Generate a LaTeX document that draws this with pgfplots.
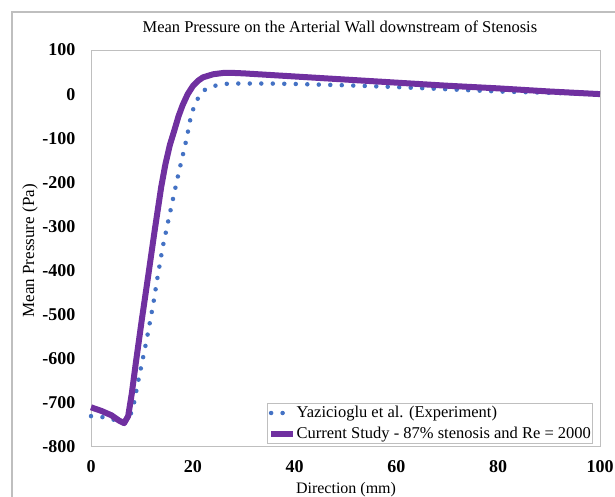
\documentclass[border=0pt]{standalone}
\usepackage{pgfplots}
\pgfplotsset{compat=1.18}
\usepackage{fontspec}
\setmainfont{Liberation Serif}
\definecolor{cpurple}{RGB}{112,48,160}
\definecolor{cblue}{RGB}{68,114,196}
\definecolor{cgray}{RGB}{191,191,191}
\begin{document}
\begin{tikzpicture}
\useasboundingbox (0pt,0pt) rectangle (615pt,497pt);
\draw[cgray, line width=1.2pt] (12pt,-20pt) -- (12pt,485pt) -- (640pt,485pt);
\begin{axis}[
  at={(91pt,50pt)}, anchor=south west,
  width=509pt, height=397pt, scale only axis,
  xmin=0, xmax=100, ymin=-800, ymax=100,
  xtick={0,20,...,100}, ytick={-800,-700,...,100},
  tick style={draw=none},
  axis line style={cgray, line width=1pt},
  /pgf/number format/assume math mode=true,
  ticklabel style={font=\fontsize{18}{18}\selectfont\bfseries},
  yticklabel style={xshift=-12pt},
  xticklabel style={yshift=-10pt},
  title={Mean Pressure on the Arterial Wall downstream of Stenosis},
  title style={at={(rel axis cs:0.489,1.043)}, anchor=center, font=\fontsize{16.5}{16.5}\selectfont},
  xlabel={Direction (mm)},
  xlabel style={at={(rel axis cs:0.501,-0.108)}, anchor=center, font=\fontsize{16}{16}\selectfont},
  ylabel={Mean Pressure (Pa)},
  ylabel style={at={(rel axis cs:-0.12,0.494)}, anchor=center, rotate=0, font=\fontsize{17}{17}\selectfont},
  legend style={at={(rel axis cs:0.986,0.008)}, anchor=south east, draw=cgray, line width=0.8pt,
    font=\fontsize{16.5}{17}\selectfont, inner xsep=1pt, inner ysep=1pt, row sep=4pt,
    nodes={inner xsep=0.5pt}, cells={anchor=west}},
  legend image code/.code={\draw[#1] (0pt,0pt) -- (22pt,0pt);},
  clip=false,
]
\addplot[cblue, line width=4.5pt, line cap=round, dash pattern=on 0pt off 11.5pt] coordinates {
(0,-730) (3,-733) (5,-740) (6.5,-745) (7.5,-735) (8.3,-709) (9.2,-655) (10,-610)
(10.8,-565) (12.2,-478) (13,-420) (14.1,-346) (15.5,-270) (17,-190) (18.2,-130)
(18.9,-95) (19.3,-68) (19.8,-43) (20.6,-18) (21.5,0) (22.5,11) (24,18) (26,23)
(28,24) (35,24) (40,23) (50,20) (60,16) (70,11) (80,6) (90,3) (100,0)
};
\addlegendentry{Yazicioglu et al. (Experiment)}
\addplot[cpurple, line width=6pt, line join=round] coordinates {
(0,-710) (2,-718) (4,-728) (5.5,-740) (6.5,-746) (7.3,-730) (8,-680) (8.8,-610)
(10,-510) (11.2,-415) (12.5,-310) (13.8,-210) (14.6,-160) (15.5,-115) (16.3,-85)
(17.2,-50) (18,-25) (19,0) (20,18) (21,30) (22,38) (24,45) (26,48) (28,48)
(30,47) (40,40) (50,33) (60,26) (70,19) (80,13) (90,6) (100,0)
};
\addlegendentry{Current Study - 87\% stenosis and Re = 2000}
\end{axis}
\end{tikzpicture}
\end{document}
